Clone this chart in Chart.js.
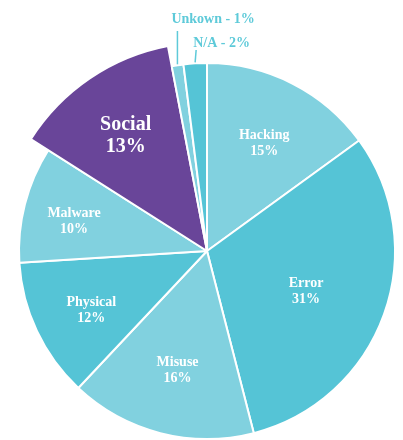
<!DOCTYPE html>
<html>
<head>
<meta charset="utf-8">
<script src="https://cdn.jsdelivr.net/npm/chart.js@4/dist/chart.umd.min.js"></script>
<style>
  html, body { margin: 0; padding: 0; background: #fff; }
  #wrap { width: 403px; height: 440px; position: relative; }
</style>
</head>
<body>
<div id="wrap"><canvas id="breachChart"></canvas></div>
<script>
// Доли инцидентов по категориям (по часовой стрелке от 12 часов)
const categories = ['Hacking', 'Error', 'Misuse', 'Physical', 'Malware', 'Social', 'Unkown', 'N/A'];
const shares = [15, 31, 16, 12, 10, 13, 1, 2];

const LIGHT = '#81d1df';
const DARK = '#55c4d6';
const PURPLE = '#694599';
const sliceColors = [LIGHT, DARK, LIGHT, DARK, LIGHT, PURPLE, LIGHT, DARK];

// Social вынесен наружу (больший радиус)
const bigSlice = 5;
const bigRatio = 1.11;

// Подписи внутри: расстояние от центра в долях радиуса
const labelDist = [0.67, 0.56, 0.63, 0.68, 0.73, 0.77];

const labelsPlugin = {
    id: 'sliceLabels',
    beforeDatasetDraw(chart) {
        const arc = chart.getDatasetMeta(0).data[bigSlice];
        if (arc && !arc.$big) {
            arc.outerRadius = arc.outerRadius * bigRatio;
            arc.$big = true;
        }
    },
    afterDatasetsDraw(chart) {
        const ctx = chart.ctx;
        const arcs = chart.getDatasetMeta(0).data;
        ctx.save();
        ctx.textAlign = 'center';
        ctx.textBaseline = 'middle';
        arcs.forEach((arc, i) => {
            const r = i === bigSlice ? arc.outerRadius / bigRatio : arc.outerRadius;
            const mid = (arc.startAngle + arc.endAngle) / 2;
            if (i < labelDist.length) {
                const d = r * labelDist[i];
                const x = arc.x + Math.cos(mid) * d;
                const y = arc.y + Math.sin(mid) * d + 5;
                const big = i === bigSlice;
                const size = big ? 20 : 14;
                const gap = big ? 22 : 16;
                ctx.fillStyle = '#ffffff';
                ctx.font = 'bold ' + size + 'px "Liberation Serif", serif';
                ctx.fillText(categories[i], x, y - gap / 2);
                ctx.fillText(shares[i] + '%', x, y + gap / 2);
            } else {
                // маленькие доли: подпись сверху с выноской
                const x0 = arc.x + Math.cos(mid) * (r + 1);
                const y0 = arc.y + Math.sin(mid) * (r + 1);
                const top = i === 6 ? 31 : 50;
                const tx = i === 6 ? x0 - 6 : x0 - 2;
                const ty = i === 6 ? 19 : 43;
                ctx.strokeStyle = '#5ecad9';
                ctx.lineWidth = 1.5;
                ctx.beginPath();
                ctx.moveTo(x0, y0);
                ctx.lineTo(x0 + (i === 6 ? 0 : 1), top);
                ctx.stroke();
                ctx.fillStyle = '#5ecad9';
                ctx.textAlign = 'left';
                ctx.font = 'bold 14px "Liberation Serif", serif';
                ctx.fillText(categories[i] + ' - ' + shares[i] + '%', tx, ty);
                ctx.textAlign = 'center';
            }
        });
        ctx.restore();
    }
};

const ctx = document.getElementById('breachChart').getContext('2d');
new Chart(ctx, {
    type: 'pie',
    data: {
        labels: categories,
        datasets: [{
            data: shares,
            backgroundColor: sliceColors,
            borderColor: '#ffffff',
            borderWidth: 2,
            clip: false
        }]
    },
    options: {
        responsive: true,
        maintainAspectRatio: false,
        animation: false,
        layout: {
            padding: { left: 18, right: 7, top: 62, bottom: 0 }
        },
        plugins: {
            legend: { display: false },
            tooltip: { enabled: false }
        }
    },
    plugins: [labelsPlugin]
});
</script>
</body>
</html>
